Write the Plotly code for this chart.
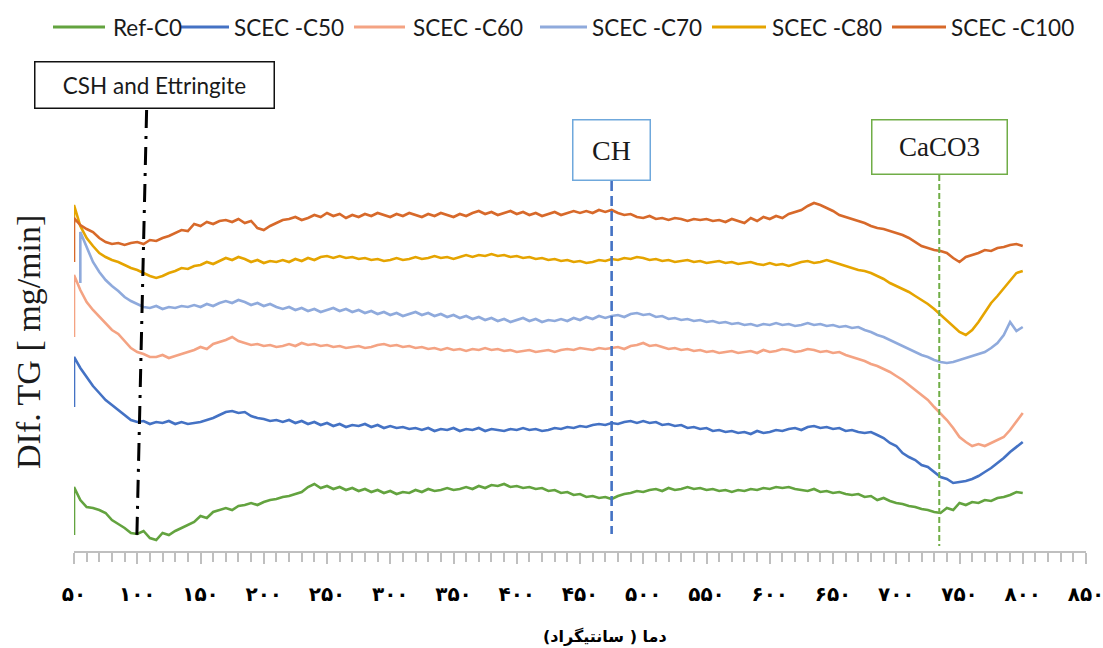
import plotly.graph_objects as go

# ---------------- data ----------------
# temperature grid (deg C), 5-degree steps
temps = list(range(50, 805, 5))

# DTG curves (arbitrary offset units), one value per grid temperature
ref_c0 = [
    0.64, 0.51, 0.44, 0.43, 0.41, 0.38, 0.31, 0.27, 0.23, 0.18,
    0.17, 0.20, 0.13, 0.11, 0.18, 0.16, 0.20, 0.23, 0.26, 0.29,
    0.35, 0.33, 0.39, 0.41, 0.43, 0.41, 0.45, 0.46, 0.48, 0.46,
    0.49, 0.51, 0.52, 0.54, 0.55, 0.57, 0.59, 0.64, 0.67, 0.63,
    0.65, 0.62, 0.64, 0.61, 0.63, 0.60, 0.62, 0.59, 0.61, 0.58,
    0.60, 0.57, 0.59, 0.58, 0.61, 0.59, 0.62, 0.60, 0.61, 0.63,
    0.61, 0.62, 0.64, 0.62, 0.65, 0.63, 0.66, 0.65, 0.67, 0.64,
    0.65, 0.63, 0.64, 0.62, 0.63, 0.60, 0.61, 0.58, 0.59, 0.56,
    0.57, 0.54, 0.55, 0.53, 0.54, 0.52, 0.55, 0.57, 0.58, 0.60,
    0.59, 0.61, 0.62, 0.60, 0.63, 0.61, 0.62, 0.64, 0.62, 0.63,
    0.61, 0.62, 0.60, 0.61, 0.59, 0.61, 0.60, 0.62, 0.61, 0.63,
    0.62, 0.64, 0.63, 0.64, 0.62, 0.61, 0.60, 0.62, 0.59, 0.60,
    0.58, 0.59, 0.57, 0.56, 0.57, 0.54, 0.55, 0.51, 0.53, 0.50,
    0.48, 0.47, 0.45, 0.44, 0.42, 0.41, 0.39, 0.38, 0.43, 0.41,
    0.48, 0.46, 0.49, 0.48, 0.51, 0.50, 0.53, 0.54, 0.56, 0.59,
    0.58,
]
scec_c50 = [
    1.94, 1.83, 1.74, 1.65, 1.58, 1.51, 1.46, 1.41, 1.36, 1.31,
    1.29, 1.30, 1.27, 1.29, 1.28, 1.30, 1.27, 1.29, 1.27, 1.28,
    1.29, 1.31, 1.33, 1.36, 1.39, 1.40, 1.38, 1.39, 1.35, 1.33,
    1.32, 1.30, 1.31, 1.29, 1.31, 1.28, 1.30, 1.27, 1.29, 1.26,
    1.28, 1.25, 1.27, 1.24, 1.26, 1.25, 1.27, 1.24, 1.26, 1.23,
    1.25, 1.23, 1.24, 1.22, 1.23, 1.21, 1.23, 1.20, 1.22, 1.21,
    1.23, 1.20, 1.22, 1.21, 1.23, 1.20, 1.22, 1.21, 1.20, 1.22,
    1.21, 1.23, 1.21, 1.22, 1.20, 1.21, 1.23, 1.22, 1.24, 1.23,
    1.25, 1.24, 1.26, 1.27, 1.26, 1.28, 1.27, 1.29, 1.30, 1.28,
    1.30, 1.28, 1.29, 1.26, 1.27, 1.25, 1.26, 1.23, 1.24, 1.22,
    1.23, 1.20, 1.21, 1.19, 1.20, 1.18, 1.19, 1.17, 1.20, 1.18,
    1.19, 1.21, 1.20, 1.22, 1.23, 1.21, 1.24, 1.25, 1.23, 1.24,
    1.22, 1.23, 1.20, 1.21, 1.19, 1.18, 1.19, 1.16, 1.13, 1.08,
    1.05, 0.98, 0.94, 0.91, 0.86, 0.84, 0.79, 0.74, 0.72, 0.68,
    0.69, 0.70, 0.72, 0.75, 0.79, 0.83, 0.88, 0.93, 0.99, 1.04,
    1.09,
]
scec_c60 = [
    2.76, 2.61, 2.49, 2.41, 2.34, 2.28, 2.21, 2.17, 2.10, 2.03,
    1.99, 1.97, 1.94, 1.94, 1.96, 1.93, 1.95, 1.97, 1.99, 2.01,
    2.04, 2.02, 2.07, 2.09, 2.11, 2.14, 2.10, 2.08, 2.06, 2.07,
    2.05, 2.06, 2.04, 2.05, 2.07, 2.05, 2.08, 2.06, 2.07, 2.05,
    2.06, 2.04, 2.05, 2.03, 2.04, 2.05, 2.03, 2.04, 2.06, 2.07,
    2.05, 2.06, 2.04, 2.05, 2.03, 2.04, 2.02, 2.03, 2.01, 2.03,
    2.01, 2.02, 2.00, 2.02, 2.01, 2.03, 2.01, 2.02, 2.00, 2.01,
    1.99, 2.00, 2.01, 1.99, 2.00, 2.01, 1.99, 2.01, 2.02, 2.01,
    2.03, 2.02, 2.01, 2.03, 2.02, 2.03, 2.04, 2.02, 2.05, 2.06,
    2.08, 2.05, 2.06, 2.04, 2.02, 2.03, 2.01, 2.02, 2.00, 2.01,
    1.99, 2.00, 1.98, 1.99, 2.00, 1.98, 1.99, 2.00, 1.98, 2.01,
    1.99, 2.00, 2.02, 2.01, 1.99, 2.00, 2.02, 2.01, 1.99, 2.00,
    1.98, 1.99, 1.96, 1.94, 1.92, 1.90, 1.87, 1.85, 1.82, 1.79,
    1.75, 1.71, 1.66, 1.61, 1.56, 1.51, 1.44, 1.38, 1.31, 1.23,
    1.14, 1.09, 1.05, 1.07, 1.05, 1.08, 1.11, 1.14, 1.21, 1.29,
    1.38,
]
# C70 begins at 55 deg C
scec_c70 = [
    3.19, 3.04, 2.89, 2.79, 2.71, 2.65, 2.60, 2.54, 2.50,
    2.47, 2.44, 2.43, 2.45, 2.42, 2.44, 2.43, 2.45, 2.44, 2.46,
    2.44, 2.47, 2.45, 2.48, 2.50, 2.48, 2.51, 2.49, 2.46, 2.48,
    2.45, 2.47, 2.44, 2.42, 2.44, 2.41, 2.43, 2.40, 2.42, 2.39,
    2.41, 2.43, 2.40, 2.42, 2.39, 2.41, 2.38, 2.40, 2.37, 2.39,
    2.36, 2.38, 2.35, 2.37, 2.39, 2.36, 2.38, 2.35, 2.37, 2.34,
    2.36, 2.33, 2.35, 2.32, 2.34, 2.31, 2.33, 2.30, 2.32, 2.29,
    2.31, 2.33, 2.30, 2.32, 2.29, 2.31, 2.30, 2.32, 2.30, 2.33,
    2.31, 2.34, 2.32, 2.35, 2.33, 2.35, 2.36, 2.34, 2.37, 2.38,
    2.36, 2.37, 2.34, 2.35, 2.32, 2.33, 2.31, 2.32, 2.30, 2.31,
    2.29, 2.30, 2.28, 2.29, 2.27, 2.28, 2.26, 2.27, 2.25, 2.27,
    2.26, 2.28, 2.26, 2.27, 2.25, 2.26, 2.28, 2.26, 2.27, 2.25,
    2.26, 2.24, 2.25, 2.23, 2.24, 2.21, 2.19, 2.16, 2.14, 2.11,
    2.08, 2.05, 2.02, 1.99, 1.96, 1.94, 1.91, 1.89, 1.88, 1.89,
    1.91, 1.93, 1.95, 1.97, 1.99, 2.03, 2.08, 2.16, 2.29, 2.20,
    2.24,
]
scec_c80 = [
    3.46, 3.25, 3.13, 3.05, 2.98, 2.94, 2.91, 2.89, 2.86, 2.83,
    2.81, 2.78, 2.75, 2.73, 2.75, 2.78, 2.80, 2.83, 2.82, 2.85,
    2.86, 2.89, 2.87, 2.90, 2.93, 2.91, 2.94, 2.92, 2.89, 2.91,
    2.88, 2.90, 2.89, 2.91, 2.89, 2.92, 2.90, 2.93, 2.91, 2.94,
    2.95, 2.93, 2.95, 2.93, 2.94, 2.92, 2.93, 2.91, 2.92, 2.90,
    2.91, 2.93, 2.91, 2.92, 2.94, 2.92, 2.93, 2.95, 2.93, 2.94,
    2.92, 2.94, 2.96, 2.94, 2.96, 2.95, 2.97, 2.95, 2.96, 2.94,
    2.95, 2.93, 2.94, 2.92, 2.93, 2.91, 2.92, 2.90, 2.91, 2.89,
    2.90, 2.88, 2.89, 2.91, 2.90, 2.92, 2.91, 2.93, 2.92, 2.94,
    2.93, 2.91, 2.92, 2.90, 2.91, 2.89, 2.90, 2.91, 2.89, 2.90,
    2.88, 2.89, 2.90, 2.88, 2.89, 2.87, 2.88, 2.89, 2.87, 2.86,
    2.88, 2.86, 2.87, 2.85, 2.87, 2.89, 2.90, 2.88, 2.89, 2.91,
    2.89, 2.87, 2.85, 2.83, 2.81, 2.80, 2.78, 2.75, 2.72, 2.68,
    2.65, 2.62, 2.59, 2.55, 2.51, 2.47, 2.42, 2.36, 2.31, 2.25,
    2.19, 2.16, 2.21, 2.29, 2.38, 2.48, 2.55, 2.63, 2.71, 2.78,
    2.80,
]
scec_c100 = [
    3.33, 3.26, 3.22, 3.19, 3.13, 3.09, 3.07, 3.08, 3.06, 3.08,
    3.09, 3.07, 3.11, 3.10, 3.13, 3.15, 3.18, 3.21, 3.20, 3.27,
    3.25, 3.29, 3.27, 3.30, 3.31, 3.29, 3.32, 3.28, 3.30, 3.23,
    3.21, 3.25, 3.28, 3.31, 3.32, 3.34, 3.31, 3.33, 3.36, 3.34,
    3.38, 3.35, 3.37, 3.33, 3.36, 3.34, 3.37, 3.35, 3.38, 3.36,
    3.34, 3.37, 3.35, 3.38, 3.36, 3.34, 3.37, 3.35, 3.38, 3.36,
    3.34, 3.37, 3.35, 3.38, 3.40, 3.37, 3.39, 3.36, 3.38, 3.40,
    3.37, 3.39, 3.36, 3.38, 3.35, 3.37, 3.39, 3.36, 3.38, 3.40,
    3.38, 3.40, 3.38, 3.41, 3.39, 3.41, 3.38, 3.36, 3.37, 3.34,
    3.33, 3.35, 3.32, 3.33, 3.31, 3.33, 3.32, 3.30, 3.32, 3.31,
    3.32, 3.30, 3.31, 3.29, 3.32, 3.30, 3.28, 3.33, 3.30, 3.34,
    3.32, 3.35, 3.33, 3.37, 3.39, 3.41, 3.45, 3.48, 3.46, 3.43,
    3.40, 3.36, 3.34, 3.32, 3.30, 3.28, 3.25, 3.23, 3.22, 3.20,
    3.18, 3.16, 3.13, 3.09, 3.05, 3.03, 3.01, 3.00, 2.98, 2.93,
    2.89, 2.94, 2.96, 2.98, 3.01, 3.00, 3.03, 3.04, 3.06, 3.07,
    3.05,
]

# initial reading of each run (start of the vertical jump)
series_names = ["Ref-C0", "SCEC -C50", "SCEC -C60", "SCEC -C70", "SCEC -C80", "SCEC -C100"]
series_values = [ref_c0, scec_c50, scec_c60, scec_c70, scec_c80, scec_c100]
onset_temp = [50, 50, 50, 55, 50, 50]
onset_value = [0.16, 1.44, 2.14, 2.68, 3.28, 2.89]
series_colors = ["#63A33F", "#4472C4", "#F4A383", "#8FAADC", "#E5A400", "#D7692A"]

# tick labels in Persian digits
tick_values = list(range(50, 851, 50))
tick_labels = ["۵۰", "۱۰۰", "۱۵۰", "۲۰۰", "۲۵۰", "۳۰۰", "۳۵۰", "۴۰۰", "۴۵۰",
               "۵۰۰", "۵۵۰", "۶۰۰", "۶۵۰", "۷۰۰", "۷۵۰", "۸۰۰", "۸۵۰"]

# decomposition markers (deg C)
csh_temp_top, csh_temp_bottom = 107.4, 99.6
ch_temp = 475
caco3_temp = 734

# ---------------- geometry ----------------
W, H = 1103, 648
ML, MR, MT, MB = 74, 17, 48, 97
PW, PH = W - ML - MR, H - MT - MB
Y_MAX = 5.03


def px_x(px):
    return (px - ML) / PW


def px_y(py):
    return (H - MB - py) / PH


def val_y(py):
    return (H - MB - py) / PH * Y_MAX


fig = go.Figure()

for name, vals, t0, v0, col in zip(series_names, series_values, onset_temp,
                                   onset_value, series_colors):
    start = temps.index(t0)
    xs = [t0] + temps[start:start + len(vals)]
    ys = [v0] + vals
    fig.add_trace(go.Scatter(x=xs, y=ys, mode="lines", name=name,
                             line=dict(color=col, width=2.6),
                             showlegend=False))

shapes = []
annotations = []

# legend drawn as line samples with labels
legend_items = [(53, 105, 111), (180, 229, 232), (354, 405, 411),
                (540, 587, 590), (712, 766, 770), (892, 946, 949)]
leg_py = 27
for (x0, x1, xt), name, col in zip(legend_items, series_names, series_colors):
    shapes.append(dict(type="line", xref="paper", yref="paper",
                       x0=px_x(x0), x1=px_x(x1), y0=px_y(leg_py), y1=px_y(leg_py),
                       line=dict(color=col, width=3)))
    annotations.append(dict(text=name, xref="paper", yref="paper",
                            x=px_x(xt), y=px_y(leg_py + 1), xanchor="left",
                            yanchor="middle", showarrow=False,
                            font=dict(family="Lato", size=22.5, color="#1a1a1a")))

# marker lines
shapes.append(dict(type="line", xref="x", yref="y",
                   x0=csh_temp_top, x1=csh_temp_bottom,
                   y0=val_y(110), y1=val_y(542),
                   line=dict(color="black", width=3, dash="18px,8px,3px,8px")))
shapes.append(dict(type="line", xref="x", yref="y",
                   x0=ch_temp, x1=ch_temp, y0=val_y(181), y1=val_y(534),
                   line=dict(color="#4472C4", width=2.6, dash="10px,5px")))
shapes.append(dict(type="line", xref="x", yref="y",
                   x0=caco3_temp, x1=caco3_temp, y0=val_y(175), y1=val_y(546),
                   line=dict(color="#70AD47", width=2, dash="6px,3px")))

# labelled boxes
annotations.append(dict(text="CSH and Ettringite", xref="paper", yref="paper",
                        x=px_x(154), y=px_y(84.5), xanchor="center", yanchor="middle",
                        showarrow=False, width=236, height=43, borderpad=1,
                        bordercolor="#111111", borderwidth=1.5, bgcolor="white",
                        font=dict(family="Lato", size=22.5, color="#1a1a1a")))
annotations.append(dict(text="CH", xref="x", yref="paper",
                        x=ch_temp, y=px_y(149.5), xanchor="center", yanchor="middle",
                        showarrow=False, width=74, height=57, borderpad=1,
                        bordercolor="#6FA8DC", borderwidth=1.5, bgcolor="white",
                        font=dict(family="Liberation Serif", size=28, color="#1a1a1a")))
annotations.append(dict(text="CaCO3", xref="x", yref="paper",
                        x=caco3_temp, y=px_y(146.5), xanchor="center", yanchor="middle",
                        showarrow=False, width=132, height=51, borderpad=1,
                        bordercolor="#70AD47", borderwidth=1.5, bgcolor="white",
                        font=dict(family="Liberation Serif", size=27, color="#1a1a1a")))

# axis titles
annotations.append(dict(text="DIf. TG [ mg/min]", xref="paper", yref="paper",
                        x=px_x(28), y=px_y(342), xanchor="center", yanchor="middle",
                        textangle=-90, showarrow=False,
                        font=dict(family="Liberation Serif", size=34, color="#1a1a1a")))
annotations.append(dict(text="دما ( سانتیگراد)", xref="paper", yref="paper",
                        x=px_x(605), y=px_y(636), xanchor="center", yanchor="middle",
                        showarrow=False,
                        font=dict(family="DejaVu Sans", size=16, color="black",
                                  weight="bold")))

fig.update_layout(
    width=W, height=H,
    margin=dict(l=ML, r=MR, t=MT, b=MB, autoexpand=False),
    plot_bgcolor="white", paper_bgcolor="white",
    showlegend=False,
    shapes=shapes, annotations=annotations,
    xaxis=dict(range=[50, 850], showgrid=False, zeroline=False, automargin=False,
               showline=True, linecolor="#BFBFBF", linewidth=1.5,
               tickmode="array", tickvals=tick_values, ticktext=tick_labels,
               ticks="outside", ticklen=11, tickwidth=1.5, tickcolor="#BFBFBF",
               ticklabelstandoff=13, ticklabeloverflow="allow",
               tickfont=dict(family="DejaVu Sans", size=20, color="black",
                             weight="bold"),
               minor=dict(tick0=50, dtick=10, ticks="outside", ticklen=9,
                          tickwidth=1.5, tickcolor="#BFBFBF")),
    yaxis=dict(range=[0, Y_MAX], visible=False, automargin=False),
)

fig.write_html("out.html")
